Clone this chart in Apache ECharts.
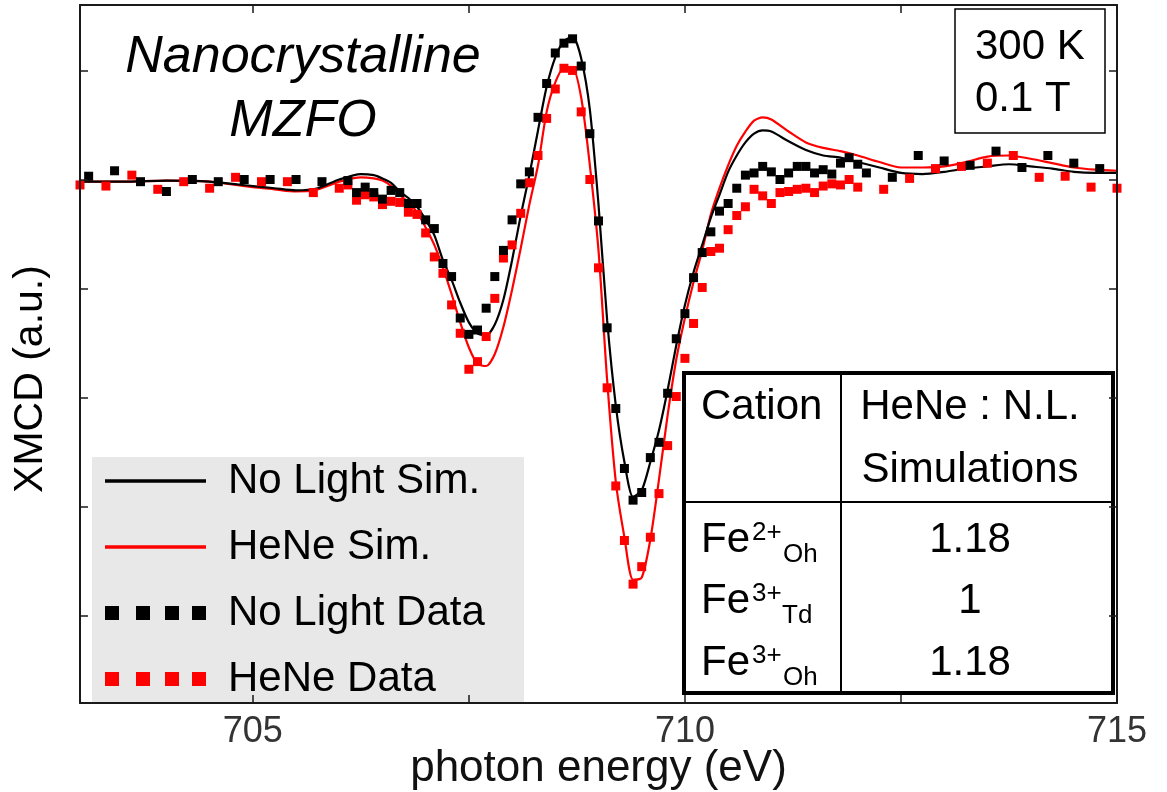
<!DOCTYPE html>
<html><head><meta charset="utf-8">
<script src="https://cdn.jsdelivr.net/npm/echarts@6/dist/echarts.min.js"></script>
<style>html,body{margin:0;padding:0;background:#fff}#c{width:1167px;height:792px}</style>
</head><body><div id="c"></div>
<script>
// ---------- data ----------
const simEnergy = [703.0, 703.5, 704.0, 704.5, 705.0, 705.25, 705.5, 705.75,
  706.0, 706.25, 706.4, 706.5, 706.6,
  706.7, 706.8, 706.9, 707.0, 707.1, 707.2, 707.3, 707.4, 707.5, 707.6, 707.7, 707.8, 707.9,
  708.0, 708.1, 708.2, 708.3, 708.4, 708.5, 708.6, 708.7, 708.8, 708.9,
  709.0, 709.1, 709.2, 709.3, 709.4, 709.5, 709.6, 709.7, 709.8, 709.9,
  710.0, 710.1, 710.2, 710.3, 710.4, 710.5, 710.6, 710.7, 710.8, 710.9, 711.0,
  711.2, 711.4, 711.6, 711.8, 712.0,
  712.25, 712.5, 712.75, 713.0, 713.25, 713.5, 713.75, 714.0, 714.25, 714.5, 714.75, 715.0];
const simNoLight = [-0.02, -0.02, -0.01, -0.02, -0.06, -0.08, -0.10, -0.08,
  0.00, 0.05, 0.04, 0.01, -0.03,
  -0.11, -0.17, -0.25, -0.37, -0.51, -0.74, -0.92, -1.13, -1.31, -1.41, -1.43, -1.33, -1.10,
  -0.74, -0.33, 0.04, 0.45, 0.85, 1.12, 1.27, 1.31, 1.11, 0.64,
  -0.23, -1.29, -2.07, -2.59, -2.91, -2.85, -2.59, -2.30, -1.93, -1.52,
  -1.15, -0.85, -0.60, -0.35, -0.14, 0.07, 0.22, 0.34, 0.42, 0.45, 0.44,
  0.35, 0.27, 0.22, 0.20, 0.16,
  0.11, 0.06, 0.05, 0.07, 0.10, 0.12, 0.14, 0.12, 0.10, 0.07, 0.06, 0.06];
const simHeNe = [-0.02, -0.02, -0.01, -0.02, -0.07, -0.09, -0.11, -0.09,
  -0.02, 0.02, 0.01, -0.01, -0.06,
  -0.14, -0.21, -0.30, -0.44, -0.60, -0.81, -1.05, -1.31, -1.54, -1.69, -1.71, -1.60, -1.35,
  -1.01, -0.63, -0.23, 0.13, 0.62, 0.89, 1.02, 1.02, 0.75, 0.13,
  -0.65, -1.84, -2.77, -3.28, -3.67, -3.65, -3.30, -2.75, -2.16, -1.65,
  -1.27, -0.94, -0.65, -0.32, -0.08, 0.13, 0.31, 0.44, 0.54, 0.57, 0.55,
  0.44, 0.34, 0.29, 0.26, 0.22,
  0.16, 0.11, 0.11, 0.12, 0.16, 0.21, 0.22, 0.19, 0.15, 0.11, 0.09, 0.08];

const dataEnergyNoLight = [703.1, 703.4, 703.7, 704.0, 704.3, 704.6, 704.9, 705.2, 705.5, 705.8,
  706.1, 706.2, 706.3, 706.4, 706.5, 706.6, 706.7, 706.8, 706.9,
  707.0, 707.1, 707.2, 707.3, 707.4, 707.5, 707.6, 707.7, 707.8, 707.9,
  708.0, 708.1, 708.2, 708.3, 708.4, 708.5, 708.6, 708.7, 708.8, 708.9,
  709.0, 709.1, 709.2, 709.3, 709.4, 709.5, 709.6, 709.7, 709.8, 709.9,
  710.0, 710.1, 710.2, 710.3, 710.4, 710.5, 710.6, 710.7, 710.8, 710.9,
  711.0, 711.1, 711.2, 711.3, 711.4, 711.5, 711.6, 711.7, 711.8, 711.9,
  712.0, 712.1,
  712.4, 712.7, 713.0, 713.3, 713.6, 713.9, 714.2, 714.5, 714.8];
const dataNoLight = [0.03, 0.08, -0.02, -0.11, 0.00, -0.02, 0.00, 0.00, 0.00, -0.02,
  -0.01, -0.12, -0.07, -0.12, -0.18, -0.10, -0.12, -0.22, -0.22,
  -0.37, -0.45, -0.77, -0.89, -1.27, -1.42, -1.38, -1.18, -0.89, -0.65,
  -0.37, -0.04, 0.07, 0.57, 0.88, 1.16, 1.25, 1.29, 1.04, 0.42,
  -0.38, -1.36, -2.10, -2.65, -2.94, -2.87, -2.55, -2.41, -1.96, -1.46,
  -1.23, -0.90, -0.67, -0.48, -0.29, -0.22, -0.08, 0.04, 0.06, 0.12,
  0.07, 0.00, 0.06, 0.12, 0.12, 0.06, 0.09, 0.05, 0.15, 0.20,
  0.14, 0.06,
  0.02, 0.22, 0.17, 0.13, 0.26, 0.11, 0.22, 0.15, 0.10];

const dataEnergyHeNe = [703.0, 703.3, 703.6, 703.9, 704.2, 704.5, 704.8, 705.1, 705.4, 705.7, 706.0,
  706.1, 706.2, 706.3, 706.4, 706.5, 706.6, 706.7, 706.8, 706.9,
  707.0, 707.1, 707.2, 707.3, 707.4, 707.5, 707.6, 707.7, 707.8, 707.9,
  708.0, 708.1, 708.2, 708.3, 708.4, 708.5, 708.6, 708.7, 708.8, 708.9,
  709.0, 709.1, 709.2, 709.3, 709.4, 709.5, 709.6, 709.7, 709.8, 709.9,
  710.0, 710.1, 710.2, 710.3, 710.4, 710.5, 710.6, 710.7, 710.8, 710.9,
  711.0, 711.1, 711.2, 711.3, 711.4, 711.5, 711.6, 711.7, 711.8, 711.9,
  712.0,
  712.3, 712.6, 712.9, 713.2, 713.5, 713.8, 714.1, 714.4, 714.7, 715.0];
const dataHeNe = [-0.05, -0.06, 0.04, -0.09, -0.02, -0.08, 0.02, -0.02, -0.02, -0.12, -0.08,
  -0.05, -0.19, -0.14, -0.16, -0.23, -0.20, -0.21, -0.30, -0.32,
  -0.49, -0.71, -0.86, -1.15, -1.41, -1.74, -1.67, -1.44, -1.09, -0.72,
  -0.60, -0.31, -0.03, 0.22, 0.56, 0.83, 1.02, 1.00, 0.62, 0.00,
  -0.81, -1.91, -2.81, -3.31, -3.71, -3.55, -3.28, -2.88, -2.44, -1.99,
  -1.64, -1.32, -0.99, -0.66, -0.63, -0.46, -0.33, -0.25, -0.09, -0.15,
  -0.22, -0.12, -0.11, -0.09, -0.08, -0.12, -0.06, -0.04, -0.05, 0.00,
  -0.07,
  -0.09, 0.01, 0.10, 0.12, 0.15, 0.22, 0.02, 0.03, -0.07, -0.08];

const xTickValues = [705, 707.5, 710, 712.5, 715];
const xLabelValues = [705, 710, 715];
const yTickValues = [-4, -3, -2, -1, 0, 1];

const seriesNames = ['No Light Sim.', 'HeNe Sim.', 'No Light Data', 'HeNe Data'];
const titleLines = ['Nanocrystalline', 'MZFO'];
const conditionLines = ['300 K', '0.1 T'];
const tableHeader = ['Cation', 'HeNe : N.L.', 'Simulations'];
const tableIons = ['Fe', 'Fe', 'Fe'];
const tableCharges = ['2+', '3+', '3+'];
const tableSites = ['Oh', 'Td', 'Oh'];
const tableRatios = ['1.18', '1', '1.18'];

// ---------- chart ----------
const FONT = '"Liberation Sans", Arial, Helvetica, sans-serif';
const zip = (xs, ys) => xs.map((x, i) => [x, ys[i]]);

function txt(x, y, text, size, extra) {
  return Object.assign({
    type: 'text', x: x, y: y, z: 12,
    style: Object.assign({ text: text, fontSize: size, fontFamily: FONT, fill: '#000',
      align: 'left', verticalAlign: 'middle' }, (extra && extra.style) || {})
  }, extra && extra.el || {});
}

const axisLine = { show: true, onZero: false, lineStyle: { color: '#1a1a1a', width: 2 } };
const tickStyle = { color: '#1a1a1a', width: 1.5 };

const graphics = [];
// legend background
graphics.push({ type: 'rect', z: 1, shape: { x: 92, y: 457, width: 432, height: 246 }, style: { fill: '#e8e8e8' } });
// sample title
graphics.push(txt(303, 89.5, titleLines.join('\n'), 52, { style: { align: 'center', fontStyle: 'italic', lineHeight: 64 } }));
// y axis title
graphics.push(txt(31, 379, 'XMCD (a.u.)', 41, { style: { align: 'center' }, el: { rotation: Math.PI / 2 } }));
// conditions box
graphics.push({ type: 'rect', z: 11, shape: { x: 955, y: 9, width: 150, height: 124 }, style: { fill: '#fff', stroke: '#000', lineWidth: 1.5 } });
graphics.push(txt(975, 47, conditionLines[0], 42));
graphics.push(txt(975, 99, conditionLines[1], 42));
// table
graphics.push({ type: 'rect', z: 10, shape: { x: 684, y: 373, width: 429, height: 320 }, style: { fill: '#fff', stroke: '#000', lineWidth: 4 } });
graphics.push({ type: 'line', z: 11, shape: { x1: 841, y1: 373, x2: 841, y2: 693 }, style: { stroke: '#000', lineWidth: 2 } });
graphics.push({ type: 'line', z: 11, shape: { x1: 684, y1: 502, x2: 1113, y2: 502 }, style: { stroke: '#000', lineWidth: 2 } });
graphics.push(txt(701, 407, tableHeader[0], 42));
graphics.push(txt(970, 407, tableHeader[1], 42, { style: { align: 'center' } }));
graphics.push(txt(970, 470, tableHeader[2], 42, { style: { align: 'center' } }));
const rowY = [540, 601, 663];
const subX = [783, 782, 783];
for (let i = 0; i < tableIons.length; i++) {
  const y = rowY[i];
  graphics.push(txt(701, y, tableIons[i], 42));
  graphics.push(txt(752, y - 7, tableCharges[i], 26));
  graphics.push(txt(subX[i], y + 15, tableSites[i], 26));
  graphics.push(txt(970, y, tableRatios[i], 42, { style: { align: 'center' } }));
}

const lineIcon = 'path://M0,5.3H101V8.7H0Z';
const dotsIcon = 'path://M0,0H14V14H0Z M31,0H45V14H31Z M60,0H74V14H60Z M87,0H101V14H87Z';

const option = {
  animation: false,
  backgroundColor: '#fff',
  textStyle: { fontFamily: FONT },
  grid: { left: 80, right: 50, top: 5, bottom: 89, containLabel: false, outerBoundsMode: 'none' },
  xAxis: [
    { type: 'value', min: 703, max: 715, position: 'bottom', z: 20,
      axisLine: axisLine,
      axisTick: { show: true, inside: true, length: 8, lineStyle: tickStyle, customValues: xTickValues },
      axisLabel: { show: true, customValues: xLabelValues, fontSize: 36, color: '#333', margin: 11, fontFamily: FONT },
      splitLine: { show: false },
      name: 'photon energy (eV)', nameLocation: 'middle', nameGap: 44, nameMoveOverlap: false,
      nameTextStyle: { fontSize: 44, color: '#111', fontFamily: FONT } },
    { type: 'value', min: 703, max: 715, position: 'top', z: 20,
      axisLine: axisLine,
      axisTick: { show: true, inside: true, length: 8, lineStyle: tickStyle, customValues: xTickValues },
      axisLabel: { show: false }, splitLine: { show: false } }
  ],
  yAxis: [
    { type: 'value', min: -4.8, max: 1.6, position: 'left', z: 20,
      axisLine: axisLine,
      axisTick: { show: true, inside: true, length: 8, lineStyle: tickStyle, customValues: yTickValues },
      axisLabel: { show: false }, splitLine: { show: false } },
    { type: 'value', min: -4.8, max: 1.6, position: 'right', z: 20,
      axisLine: axisLine,
      axisTick: { show: true, inside: true, length: 8, lineStyle: tickStyle, customValues: yTickValues },
      axisLabel: { show: false }, splitLine: { show: false } }
  ],
  legend: {
    orient: 'vertical', left: 105, top: 459, padding: 0, itemGap: 22,
    itemWidth: 101, itemHeight: 14, selectedMode: false, symbolKeepAspect: true,
    textStyle: { fontSize: 42, color: '#000', lineHeight: 44, padding: [0, 0, 0, 17], fontFamily: FONT },
    data: [
      { name: seriesNames[0], icon: lineIcon, itemStyle: { color: '#000' } },
      { name: seriesNames[1], icon: lineIcon, itemStyle: { color: '#ff0000' } },
      { name: seriesNames[2], icon: dotsIcon },
      { name: seriesNames[3], icon: dotsIcon }
    ]
  },
  graphic: graphics,
  series: [
    { name: seriesNames[1], type: 'line', data: zip(simEnergy, simHeNe), smooth: 0.25,
      symbol: 'none', showSymbol: false, lineStyle: { color: '#ff0000', width: 2.2 }, itemStyle: { color: '#ff0000' }, z: 3 },
    { name: seriesNames[0], type: 'line', data: zip(simEnergy, simNoLight), smooth: 0.25,
      symbol: 'none', showSymbol: false, lineStyle: { color: '#000', width: 2.2 }, itemStyle: { color: '#000' }, z: 3 },
    { name: seriesNames[3], type: 'scatter', data: zip(dataEnergyHeNe, dataHeNe), symbol: 'rect', symbolSize: 9,
      itemStyle: { color: '#ff0000', opacity: 1 }, z: 4 },
    { name: seriesNames[2], type: 'scatter', data: zip(dataEnergyNoLight, dataNoLight), symbol: 'rect', symbolSize: 9,
      itemStyle: { color: '#000', opacity: 1 }, z: 5 }
  ]
};

const chart = echarts.init(document.getElementById('c'), null, { renderer: 'canvas' });
chart.setOption(option);
</script>
</body></html>
